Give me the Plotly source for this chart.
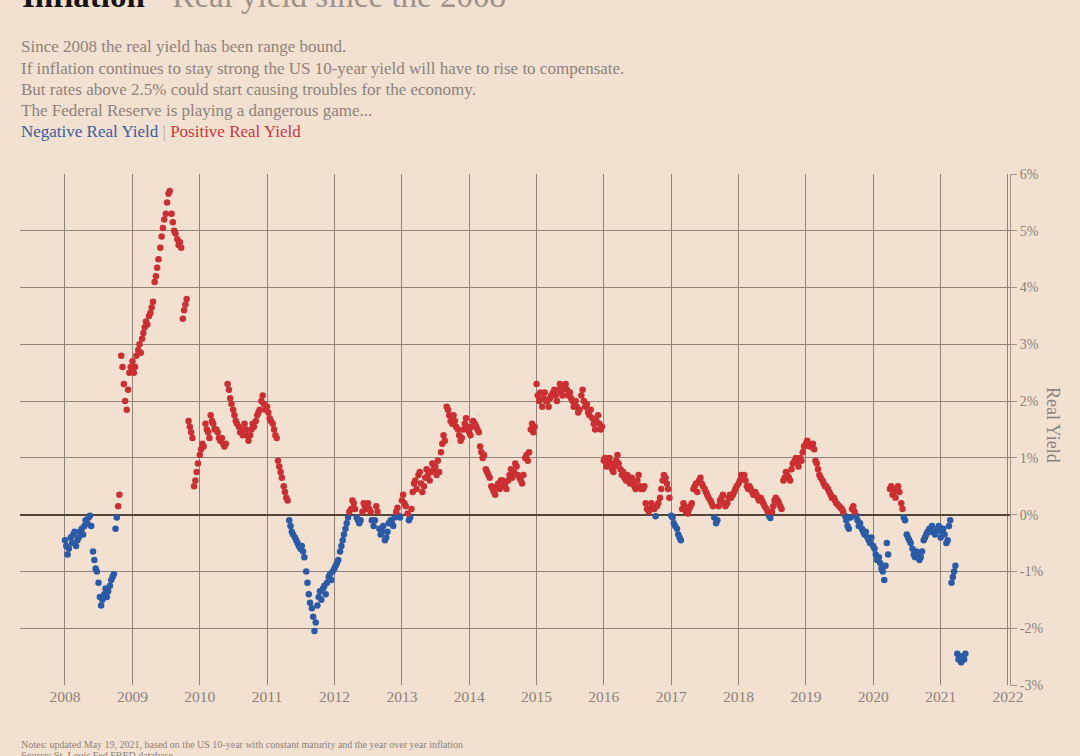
import plotly.graph_objects as go

# ---- data: US 10y real yield (10y CMT minus YoY CPI), 4 readings per month (days 1, 8, 15, 22)
years = [2008, 2009, 2010, 2011, 2012, 2013, 2014, 2015, 2016, 2017, 2018, 2019, 2020, 2021]
sample_days = [1, 8, 15, 22]

y2008 = [-0.45, -0.55, -0.7, -0.6, -0.4, -0.5, -0.35, -0.3, -0.55, -0.45, -0.4, -0.3,
         -0.25, -0.35, -0.2, -0.1, -0.15, -0.05, -0.02, -0.2, -0.65, -0.8, -0.95, -1.0,
         -1.2, -1.45, -1.6, -1.5, -1.4, -1.3, -1.45, -1.35, -1.25, -1.15, -1.1, -1.05,
         -0.25, -0.05, 0.15, 0.35, 2.8, 2.6, 2.3, 2.0, 1.85, 2.2, 2.5, 2.6]
y2009 = [2.7, 2.5, 2.6, 2.8, 2.9, 3.0, 2.85, 3.1, 3.2, 3.3, 3.4, 3.35,
         3.5, 3.55, 3.65, 3.75, 4.1, 4.2, 4.35, 4.5, 4.7, 4.9, 5.05, 5.2,
         5.3, 5.5, 5.65, 5.7, 5.3, 5.15, 5.0, 4.95, 4.85, 4.75, 4.8, 4.7,
         3.45, 3.6, 3.7, 3.8, 1.65, 1.55, 1.45, 1.35, 0.5, 0.6, 0.75, 0.9]
y2010 = [1.05, 1.15, 1.25, 1.2, 1.6, 1.5, 1.45, 1.35, 1.75, 1.65, 1.6, 1.5,
         1.5, 1.45, 1.35, 1.3, 1.35, 1.25, 1.2, 1.25, 2.3, 2.2, 2.05, 1.95,
         1.85, 1.75, 1.65, 1.6, 1.55, 1.45, 1.5, 1.4, 1.6, 1.5, 1.4, 1.3,
         1.4, 1.5, 1.6, 1.55, 1.65, 1.75, 1.8, 1.85, 2.0, 2.1, 1.95, 1.85]
y2011 = [1.9, 1.8, 1.7, 1.65, 1.6, 1.5, 1.4, 1.35, 0.95, 0.85, 0.75, 0.65,
         0.5, 0.4, 0.3, 0.25, -0.1, -0.2, -0.3, -0.35, -0.4, -0.45, -0.5, -0.55,
         -0.6, -0.55, -0.65, -0.75, -1.0, -1.2, -1.4, -1.55, -1.65, -1.8, -2.05, -1.9,
         -1.6, -1.45, -1.35, -1.5, -1.3, -1.25, -1.4, -1.2, -1.1, -1.05, -1.15, -1.0]
y2012 = [-0.95, -0.9, -0.85, -0.8, -0.65, -0.55, -0.45, -0.35, -0.25, -0.15, -0.05, 0.05,
         0.1, 0.25, 0.2, 0.1, -0.05, -0.1, -0.15, -0.1, 0.05, 0.2, 0.15, 0.1,
         0.2, 0.1, 0.05, -0.1, -0.2, -0.1, 0.15, 0.05, -0.25, -0.35, -0.3, -0.2,
         -0.45, -0.4, -0.3, -0.15, -0.1, -0.15, -0.2, -0.05, 0.05, 0.12, -0.02, -0.05]
y2013 = [0.25, 0.35, 0.2, 0.15, 0.02, -0.1, -0.05, 0.1, 0.4, 0.55, 0.6, 0.45,
         0.7, 0.75, 0.55, 0.4, 0.5, 0.65, 0.8, 0.7, 0.6, 0.75, 0.9, 0.8,
         0.85, 0.7, 0.95, 0.75, 1.1, 1.25, 1.4, 1.3, 1.9, 1.85, 1.75, 1.65,
         1.6, 1.75, 1.65, 1.55, 1.5, 1.4, 1.3, 1.35, 1.5, 1.6, 1.7, 1.55]
y2014 = [1.45, 1.4, 1.55, 1.65, 1.6, 1.55, 1.5, 1.45, 1.2, 1.1, 1.0, 1.05,
         0.8, 0.75, 0.7, 0.65, 0.5, 0.45, 0.4, 0.35, 0.5, 0.55, 0.45, 0.6,
         0.6, 0.5, 0.55, 0.45, 0.6, 0.7, 0.8, 0.65, 0.75, 0.9, 0.85, 0.7,
         0.65, 0.6, 0.55, 0.7, 1.0, 1.05, 0.95, 1.1, 1.5, 1.6, 1.45, 1.55]
y2015 = [2.3, 2.1, 2.0, 2.15, 1.9, 2.05, 2.15, 2.0, 2.0, 1.9, 2.05, 2.1,
         2.15, 2.2, 2.1, 2.0, 2.2, 2.3, 2.15, 2.1, 2.25, 2.3, 2.2, 2.1,
         2.15, 2.05, 2.0, 1.9, 2.0, 1.9, 1.8, 1.85, 2.1, 2.2, 2.0, 1.9,
         1.95, 1.8, 1.75, 1.85, 1.7, 1.6, 1.5, 1.65, 1.75, 1.6, 1.5, 1.55]
y2016 = [0.95, 1.0, 0.85, 0.9, 1.0, 0.9, 0.8, 0.75, 0.85, 0.95, 1.05, 0.9,
         0.8, 0.7, 0.75, 0.65, 0.6, 0.7, 0.65, 0.55, 0.65, 0.55, 0.5, 0.45,
         0.6, 0.7, 0.5, 0.45, 0.45, 0.5, 0.2, 0.1, 0.05, 0.1, 0.2, 0.15,
         0.1, -0.03, 0.15, 0.2, 0.3, 0.45, 0.6, 0.7, 0.65, 0.55, 0.45, 0.3]
y2017 = [-0.02, -0.05, -0.15, -0.2, -0.25, -0.35, -0.4, -0.45, 0.1, 0.2, 0.15, 0.05,
         0.02, 0.1, 0.15, 0.2, 0.45, 0.5, 0.55, 0.4, 0.6, 0.65, 0.55, 0.5,
         0.45, 0.4, 0.35, 0.3, 0.25, 0.2, 0.15, -0.05, -0.15, -0.1, 0.15, 0.25,
         0.3, 0.35, 0.2, 0.15, 0.2, 0.3, 0.35, 0.3, 0.35, 0.4, 0.45, 0.5]
y2018 = [0.55, 0.6, 0.7, 0.65, 0.7, 0.6, 0.5, 0.45, 0.5, 0.45, 0.4, 0.35,
         0.4, 0.35, 0.3, 0.25, 0.3, 0.25, 0.2, 0.15, 0.1, 0.05, -0.02, -0.06,
         0.05, 0.15, 0.25, 0.3, 0.25, 0.2, 0.15, 0.1, 0.6, 0.65, 0.75, 0.7,
         0.65, 0.6, 0.8, 0.9, 0.95, 1.0, 0.9, 0.85, 1.0, 0.95, 1.1, 1.2]
y2019 = [1.25, 1.3, 1.25, 1.2, 1.2, 1.25, 1.15, 0.95, 0.9, 0.8, 0.7, 0.65,
         0.6, 0.55, 0.5, 0.5, 0.45, 0.4, 0.35, 0.3, 0.3, 0.25, 0.2, 0.18,
         0.15, 0.12, 0.1, 0.05, -0.02, -0.1, -0.2, -0.25, -0.05, 0.1, 0.15, 0.05,
         -0.02, -0.1, -0.2, -0.15, -0.25, -0.3, -0.35, -0.3, -0.4, -0.45, -0.5, -0.4]
y2020 = [-0.55, -0.6, -0.7, -0.8, -0.75, -0.85, -0.95, -1.0, -1.15, -0.9, -0.5, -0.7,
         0.45, 0.5, 0.35, 0.4, 0.3, 0.45, 0.5, 0.4, 0.2, 0.1, -0.05, -0.1,
         -0.35, -0.4, -0.45, -0.5, -0.6, -0.7, -0.75, -0.65, -0.7, -0.8, -0.75, -0.65,
         -0.45, -0.4, -0.35, -0.3, -0.25, -0.3, -0.2, -0.3, -0.35, -0.3, -0.25, -0.2]
y2021 = [-0.4, -0.3, -0.25, -0.35, -0.5, -0.45, -0.2, -0.1, -1.2, -1.1, -1.0, -0.9,
         -2.45, -2.55, -2.5, -2.6, -2.5, -2.55, -2.45]

series = [y2008, y2009, y2010, y2011, y2012, y2013, y2014, y2015,
          y2016, y2017, y2018, y2019, y2020, y2021]

x_ticks_years = list(range(2008, 2023))
y_ticks = [-3, -2, -1, 0, 1, 2, 3, 4, 5, 6]
y_tick_labels = [f"{v}%" for v in y_ticks]

# ---- build points
neg_x, neg_y, pos_x, pos_y = [], [], [], []
for yr, arr in zip(years, series):
    for i, v in enumerate(arr):
        d = f"{yr}-{i // 4 + 1:02d}-{sample_days[i % 4]:02d}"
        if v < 0:
            neg_x.append(d); neg_y.append(v)
        else:
            pos_x.append(d); pos_y.append(v)

BLUE = "#2b5aa6"
RED = "#cb2f31"
BG = "#f2e0d1"
GRID = "#8f847c"
TXT = "#8c837d"
FONT = "Liberation Serif"

fig = go.Figure()
fig.add_trace(go.Scatter(x=neg_x, y=neg_y, mode="markers",
                         marker=dict(color=BLUE, size=6.5, line=dict(width=0)),
                         name="Negative Real Yield"))
fig.add_trace(go.Scatter(x=pos_x, y=pos_y, mode="markers",
                         marker=dict(color=RED, size=6.5, line=dict(width=0)),
                         name="Positive Real Yield"))

L, R, T, B = 20, 70, 174, 71
W, H = 1080, 756
PH = H - T - B
PW = W - L - R

def py(p):
    return (H - B - p) / PH

def px(p):
    return (p - L) / PW

fig.update_layout(
    width=W, height=H,
    margin=dict(l=L, r=R, t=T, b=B),
    paper_bgcolor=BG, plot_bgcolor=BG,
    showlegend=False,
    font=dict(family=FONT, color=TXT),
    xaxis=dict(
        type="date",
        range=["2007-05-02", "2022-01-12"],
        tickvals=[f"{y}-01-01" for y in x_ticks_years],
        ticktext=[str(y) for y in x_ticks_years],
        showgrid=True, gridcolor=GRID, gridwidth=1,
        zeroline=False, showline=False, ticks="",
        tickfont=dict(size=15.5, color=TXT, family=FONT),
    ),
    yaxis=dict(
        side="right",
        range=[-3, 6],
        tickvals=y_ticks, ticktext=y_tick_labels,
        showgrid=True, gridcolor=GRID, gridwidth=1,
        zeroline=True, zerolinecolor="#54453b", zerolinewidth=1.6,
        showline=True, linecolor="#a0958d", linewidth=1,
        ticks="outside", ticklen=6, tickcolor="#a0958d",
        tickfont=dict(size=14, color=TXT, family=FONT),
    ),
)

ann = []
# Title (partially cut off at top, as in the reference)
ann.append(dict(x=px(20), y=py(16), xref="paper", yref="paper", xanchor="left", yanchor="bottom",
                showarrow=False, align="left",
                text="<b>Inflation</b> <span style='color:#9b928c'>- Real yield since the 2008</span>",
                font=dict(size=33, color="#141414", family=FONT)))
sub_lines = [
    "Since 2008 the real yield has been range bound.",
    "If inflation continues to stay strong the US 10-year yield will have to rise to compensate.",
    "But rates above 2.5% could start causing troubles for the economy.",
    "The Federal Reserve is playing a dangerous game...",
]
sub_y = [47, 68.5, 89.5, 110.5]
for t, yy in zip(sub_lines, sub_y):
    ann.append(dict(x=px(19), y=py(yy), xref="paper", yref="paper", xanchor="left", yanchor="middle",
                    showarrow=False, text=t, font=dict(size=17, color=TXT, family=FONT)))
ann.append(dict(x=px(19), y=py(131.5), xref="paper", yref="paper", xanchor="left", yanchor="middle",
                showarrow=False,
                text="<span style='color:#3b5d9f'>Negative Real Yield</span> "
                     "<span style='color:#b5aca6'>|</span> "
                     "<span style='color:#c9393c'>Positive Real Yield</span>",
                font=dict(size=17, family=FONT)))
# Right axis title, reading top to bottom
ann.append(dict(x=px(1053), y=py(425), xref="paper", yref="paper", xanchor="center", yanchor="middle",
                showarrow=False, text="Real Yield", textangle=90,
                font=dict(size=18, color=TXT, family=FONT)))
# Notes
ann.append(dict(x=px(19), y=py(744), xref="paper", yref="paper", xanchor="left", yanchor="middle",
                showarrow=False,
                text="Notes: updated May 19, 2021, based on the US 10-year with constant maturity and the year over year inflation",
                font=dict(size=10, color=TXT, family=FONT)))
ann.append(dict(x=px(19), y=py(755), xref="paper", yref="paper", xanchor="left", yanchor="middle",
                showarrow=False, text="Source: St. Louis Fed FRED database",
                font=dict(size=10, color=TXT, family=FONT)))
fig.update_layout(annotations=ann)

fig.write_html("out.html", config={"displayModeBar": False},
               post_script="document.body.style.margin='0';document.body.style.overflow='hidden';")
